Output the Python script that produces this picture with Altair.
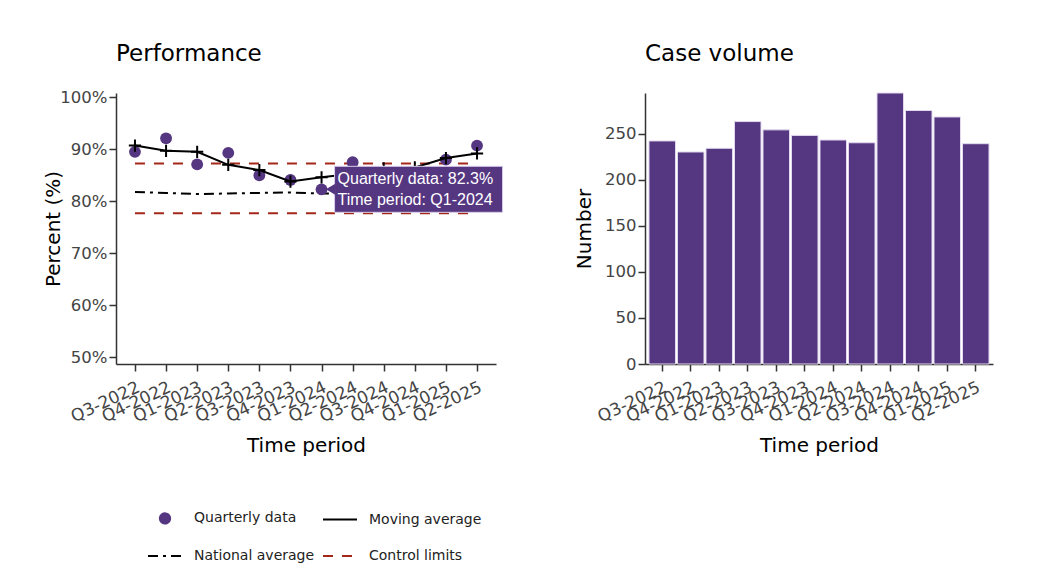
import altair as alt
import pandas as pd

# ---------------- data ----------------
periods = ["Q3-2022", "Q4-2022", "Q1-2023", "Q2-2023", "Q3-2023", "Q4-2023",
           "Q1-2024", "Q2-2024", "Q3-2024", "Q4-2024", "Q1-2025", "Q2-2025"]
quarterly = [89.5, 92.1, 87.1, 89.3, 85.0, 84.1, 82.3, 87.5, 85.2, 84.0, 88.0, 90.7]
moving_avg = [90.7, 89.7, 89.5, 87.0, 86.0, 83.8, 84.6, 85.3, 86.3, 86.5, 88.3, 89.2]
national_avg = [81.8, 81.6, 81.4, 81.5, 81.6, 81.7, 81.5, 81.5, 81.6, 81.6, 81.7, 81.7]
upper_limit = [87.25, 87.25, 87.25, 87.25, 87.25, 87.25, 87.25, 87.25, 87.25, 87.25, 87.25, 87.25]
lower_limit = [77.7, 77.7, 77.7, 77.7, 77.7, 77.7, 77.7, 77.7, 77.7, 77.7, 77.7, 77.7]
case_volume = [242, 230, 234, 263, 254, 248, 243, 240, 294, 275, 268, 239]

series_names = ["Quarterly data", "Moving average", "National average", "Control limits"]
series_colors = ["#553681", "#000000", "#000000", "#a3281a"]
series_dashes = [[1, 0], [1, 0], [10, 5, 3, 5], [10, 9]]
DOT = "M0.3,0A0.3,0.3 0 1,1 -0.3,0A0.3,0.3 0 1,1 0.3,0Z"
series_shapes = [DOT, "stroke", "stroke", "stroke"]

pct_ticks = [50, 60, 70, 80, 90, 100]
count_ticks = [0, 50, 100, 150, 200, 250]

tip_period = "Q1-2024"
tip_value = 82.3
tip_lines = ["Quarterly data: 82.3%", "Time period: Q1-2024"]

PURPLE = "#553681"
RED = "#a3281a"
FONT = "DejaVu Sans"

# ---------------- tables ----------------
q_df = pd.DataFrame({"period": periods, "value": quarterly})
ma_df = pd.DataFrame({"period": periods, "value": moving_avg})
nat_df = pd.DataFrame({"period": periods, "value": national_avg})
cl_df = pd.concat([
    pd.DataFrame({"period": periods, "value": upper_limit, "limit": "upper"}),
    pd.DataFrame({"period": periods, "value": lower_limit, "limit": "lower"}),
])
legend_df = pd.DataFrame({"series": series_names})
tip_df = pd.DataFrame({"period": [tip_period], "value": [tip_value]})
vol_df = pd.DataFrame({"period": periods, "count": case_volume})

# ---------------- left chart ----------------
x_left = alt.X(
    "period:N", sort=periods,
    scale=alt.Scale(type="point", padding=0.61),
    axis=alt.Axis(title="Time period", labelAngle=-25, labelAlign="right",
                  labelBaseline="top", labelPadding=8, titlePadding=11, labelFontSize=17),
)
y_left = alt.Y(
    "value:Q",
    scale=alt.Scale(domain=[48.75, 100.8], nice=False, zero=False),
    axis=alt.Axis(title="Percent (%)", values=pct_ticks,
                  labelExpr="datum.value + '%'", titlePadding=-4),
)

base = alt.Chart(q_df).encode(x=x_left, y=y_left)

limits = alt.Chart(cl_df).mark_line(color=RED, strokeWidth=2, strokeDash=[10, 9]).encode(
    x=x_left, y=y_left, detail="limit:N")
national = alt.Chart(nat_df).mark_line(color="black", strokeWidth=2,
                                       strokeDash=[10, 5, 3, 5]).encode(x=x_left, y=y_left)
points = base.mark_point(filled=True, size=140, opacity=1, color=PURPLE)
ma_line = alt.Chart(ma_df).mark_line(color="black", strokeWidth=2).encode(x=x_left, y=y_left)
ma_marks = alt.Chart(ma_df).mark_point(
    shape="M-1,0L1,0M0,-1L0,1", size=150, filled=False, color="black",
    strokeWidth=2, opacity=1).encode(x=x_left, y=y_left)

leg = alt.Legend(
    title=None, orient="none", legendX=31, legendY=407, columns=2, direction="horizontal",
    labelFont=FONT, labelFontSize=14, labelColor="#222", labelOffset=11,
    rowPadding=10, columnPadding=4, symbolStrokeWidth=2, symbolSize=1156,
)
legend_layer = alt.Chart(legend_df).transform_filter("false").mark_point(
    filled=True, opacity=1, strokeWidth=2).encode(
    fill=alt.Fill("series:N", scale=alt.Scale(domain=series_names, range=series_colors), legend=leg),
    stroke=alt.Stroke("series:N", scale=alt.Scale(domain=series_names, range=series_colors), legend=leg),
    shape=alt.Shape("series:N", scale=alt.Scale(domain=series_names, range=series_shapes), legend=leg),
    strokeDash=alt.StrokeDash("series:N", scale=alt.Scale(domain=series_names, range=series_dashes), legend=leg),
)

tip_base = alt.Chart(tip_df).encode(x=x_left, y=y_left)
tip_box = tip_base.mark_rect(width=168, height=46, xOffset=97, color=PURPLE,
                             stroke="#d8cce8", strokeWidth=1, opacity=1)
tip_arrow = tip_base.mark_point(shape="triangle-left", filled=True, size=120,
                                xOffset=9, color=PURPLE, opacity=1)
tip_text = tip_base.mark_text(align="left", baseline="middle", dx=16, dy=-10.5,
                              font="Liberation Sans", fontSize=16, color="white",
                              lineHeight=21).encode(text=alt.value(tip_lines))

left = alt.layer(limits, national, points, ma_line, ma_marks, legend_layer,
                 tip_box, tip_arrow, tip_text).properties(
    width=380, height=271,
    title=alt.TitleParams("Performance", anchor="start", frame="group", fontSize=23,
                          fontWeight="normal", font=FONT, color="black",
                          offset=5, baseline="alphabetic"),
)

# ---------------- right chart ----------------
right = alt.Chart(vol_df).mark_bar(color=PURPLE, stroke="#e2d9ee", strokeWidth=1).encode(
    x=alt.X("period:N", sort=periods,
            scale=alt.Scale(paddingInner=0.07, paddingOuter=0.14),
            axis=alt.Axis(title="Time period", labelAngle=-25, labelAlign="right",
                          labelBaseline="top", labelPadding=8, titlePadding=11,
                          labelFontSize=17)),
    y=alt.Y("count:Q", scale=alt.Scale(domain=[0, 294], nice=False),
            axis=alt.Axis(title="Number", values=count_ticks, titlePadding=10)),
).properties(
    width=348, height=271,
    title=alt.TitleParams("Case volume", anchor="start", frame="group", fontSize=23,
                          fontWeight="normal", font=FONT, color="black",
                          offset=9, baseline="alphabetic"),
)

chart = alt.hconcat(left, right, spacing=70).properties(
    padding={"left": 35, "top": 34, "right": 10, "bottom": 10},
    background="white",
).configure_view(stroke=None).configure_axis(
    grid=False, domainColor="#333", domainWidth=1.5, tickColor="#333", tickWidth=1.5,
    tickSize=7, labelFont=FONT, labelFontSize=16.5, labelColor="#444",
    titleFont=FONT, titleFontSize=20, titleFontWeight="normal", titleColor="black",
    labelPadding=2,
)

chart.save("out.html", embed_options={"renderer": "svg", "actions": False})
